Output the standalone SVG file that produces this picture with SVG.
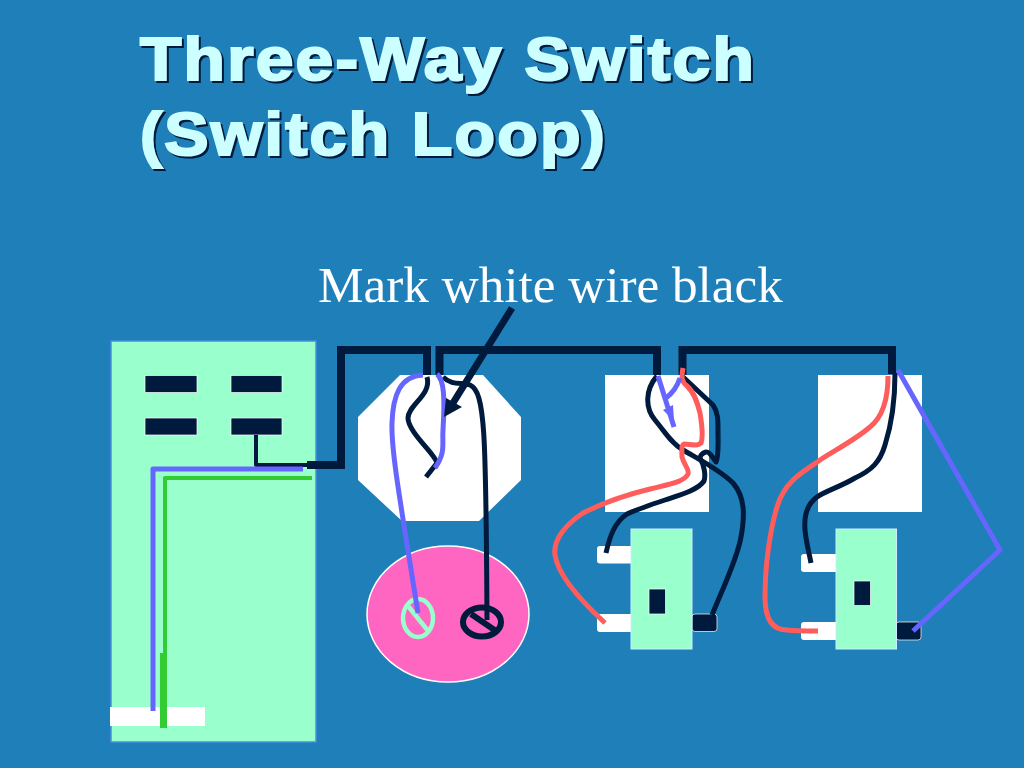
<svg xmlns="http://www.w3.org/2000/svg" width="1024" height="768" viewBox="0 0 1024 768">
<style>
.title{font-family:"Liberation Sans",Arial,sans-serif;font-weight:bold;font-size:62px;letter-spacing:2px;fill:#ccffff;stroke:#ccffff;stroke-width:2.2px;filter:drop-shadow(2.5px 2.5px 0.5px #001a3d)}
.label{font-family:"Liberation Serif","Times New Roman",serif;font-size:51.2px;fill:#fff}
.w{fill:none;stroke-linejoin:round}
.k{stroke:#001a3d;stroke-width:5}
.b{stroke:#6666ff;stroke-width:5}
.r{stroke:#ff5c5c;stroke-width:5}
.g{stroke:#33cc33}
.cable{fill:none;stroke:#001a3d;stroke-width:8;stroke-linejoin:miter}
.plate{fill:#fff}
.mint{fill:#99ffcc;stroke:#cceeff;stroke-width:1}
.term{fill:#001a3d;stroke:#fff;stroke-width:.7}
.tab{fill:#fff}
</style>
<rect width="1024" height="768" fill="#1f7fb8"/>
<g id="title">
<text class="title" x="140" y="80" textLength="616" lengthAdjust="spacingAndGlyphs">Three-Way Switch</text>
<text class="title" x="140" y="155" textLength="467" lengthAdjust="spacingAndGlyphs">(Switch Loop)</text>
</g>
<text id="label" class="label" x="318" y="302">Mark white wire black</text>
<g id="panel">
<rect x="111" y="341" width="205" height="401" fill="#99ffcc" stroke="#4a8fe0" stroke-width="1.5"/>
<rect class="term" x="145" y="375.500" width="52" height="17"/>
<rect class="term" x="231" y="375.500" width="51" height="17"/>
<rect class="term" x="145" y="418" width="52" height="17"/>
<rect class="term" x="231" y="418" width="51" height="17"/>
<rect class="tab" x="110" y="707" width="95" height="19"/>
</g>
<g id="junction-box"><polygon class="plate" points="400,375 483,375 521,417 521,480 479,521 402,521 358,480 358,417"/></g>
<g id="lamp">
<ellipse cx="448" cy="614" rx="81" ry="68" fill="#ff66c2" stroke="#fff" stroke-width="1.500"/>
<g id="lamp-screw-white" fill="none" stroke="#99ffcc">
<ellipse cx="418" cy="618" rx="15" ry="19" stroke-width="4.500"/>
<line x1="408" y1="606" x2="429" y2="632" stroke-width="4.500"/>
</g>
<g id="lamp-screw-black" fill="none" stroke="#001a3d">
<ellipse cx="482" cy="622" rx="19" ry="14.500" stroke-width="6"/>
<line x1="471" y1="614" x2="496" y2="631" stroke-width="6"/>
</g>
</g>
<g id="switch-1">
<rect class="plate" x="605" y="375" width="104" height="137"/>
<rect class="tab" x="597" y="546" width="40" height="17.500" rx="3"/>
<rect class="tab" x="597" y="614" width="40" height="18" rx="3"/>
<rect class="term" x="692" y="614" width="25" height="17.500" rx="3"/>
<rect class="mint" x="631" y="529" width="61" height="120"/>
<rect class="term" x="649" y="589" width="16.500" height="25"/>
</g>
<g id="switch-2">
<rect class="plate" x="818" y="375" width="104" height="137"/>
<rect class="tab" x="801" y="554" width="40" height="18" rx="3"/>
<rect class="tab" x="801" y="622" width="40" height="18" rx="3"/>
<rect class="term" x="896" y="622" width="25" height="18" rx="3"/>
<rect class="mint" x="836" y="529" width="60.500" height="120"/>
<rect class="term" x="854" y="581" width="16.500" height="24.500"/>
</g>
<g id="connectors">
<path class="cable" d="M307 465H341V350H427V375"/>
<path class="cable" d="M439.500 375V350H657V375"/>
<path class="cable" d="M682.500 375V350H892V374"/>
<path class="w k" style="stroke-width:4" d="M256 435V465H307"/>
<path class="w b" d="M303 469H153V711"/>
<path class="w g" stroke-width="4" d="M312 478H165V653"/>
<rect x="160" y="653" width="7" height="75" fill="#33cc33"/>
<path class="w k" d="M427 377C432 395 408 405 408 418C408 432 436 455 437 463L426 477"/>
<path class="w k" d="M443 377C452 386 462 382 470 385C485 392 486 430 487 620"/>
<path class="w b" d="M423 375C400 376 393 395 392 423C391 450 400 500 418 613"/>
<path class="w b" d="M437 374C444 380 445 397 443 430C442 445 446 452 435 468"/>
<path d="M512 308L453 403" stroke="#001a3d" stroke-width="7" fill="none"/>
<polygon points="444,417 446,398 462,407" fill="#001a3d"/>
<path class="w k" d="M657 376C645 390 645 408 655 420C665 432 672 444 683 450C700 460 720 470 733 483C745 497 745 515 741 537C737 560 722 590 712 615"/>
<path class="w k" d="M682 376L713 405C718 412 718 420 718 430C718 445 719 455 716 462C713 458 709 451 706 452C702 453 700 456 700 458C704 465 706 475 704 481C698 490 680 495 665 500C650 505 635 510 627 514C615 522 610 535 606 553"/>
<path class="w r" d="M683 368C681 378 682 382 687 386C695 393 698 405 700 413C702 425 703 438 701 443C697 447 690 444 684 444C681 445 682 452 682 457C684 465 690 470 688 474C684 482 670 484 650 489C625 495 605 502 583 513C565 525 553 540 555 555C558 575 580 600 605 623"/>
<path class="w b" d="M658 376L674 427"/>
<path class="w b" d="M680 378C676 390 670 395 666 398"/>
<polygon points="663,410 673,405 674,421" fill="#6666ff"/>
<path class="w r" d="M888 376C888 395 885 415 870 427C855 440 835 450 820 460C810 467 800 473 793 480C783 490 779 500 777 507C770 530 765 565 765 597C765 615 770 630 787 630C795 631 805 631 818 631"/>
<path class="w k" d="M895 373C895 395 893 420 885 445C880 462 872 470 855 478C840 487 825 491 817 497C806 505 804 518 805 530C806 542 809 552 811 563"/>
<path class="w b" d="M898 370L1000 550L913 631"/>
</g>
</svg>
